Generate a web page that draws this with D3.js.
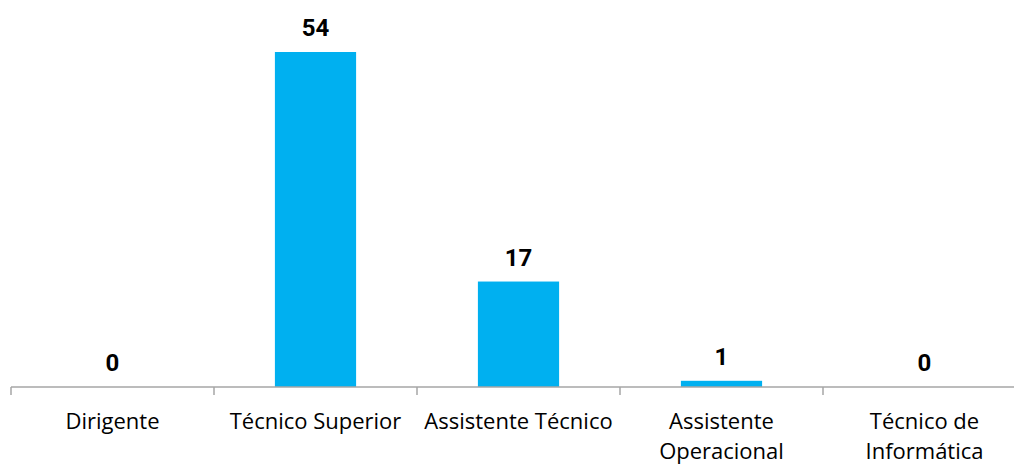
<!DOCTYPE html>
<html lang="pt">
  <head>
    <meta charset="utf-8">
    <script src="https://d3js.org/d3.v7.min.js"></script>
    <style>
      body { margin: 0; background: #fff; }
    </style>
  </head>
  <body>
    <script>

    // Data
    var categories = ["Dirigente", "Técnico Superior", "Assistente Técnico", "Assistente Operacional", "Técnico de Informática"];
    var values = [0, 54, 17, 1, 0];
    // tick labels as they wrap under each band
    var tickLines = [["Dirigente"], ["Técnico Superior"], ["Assistente Técnico"], ["Assistente", "Operacional"], ["Técnico de", "Informática"]];

    var svgW = 1014, svgH = 466;
    var baseY = 387; // y of the axis line
    var barColor = "#00b0f0";

    var svg = d3.select("body").append("svg")
                .attr("width", svgW)
                .attr("height", svgH);

    var xScale = d3.scaleBand()
                   .domain(categories)
                   .range([11, 1026])
                   .paddingInner(0.6)
                   .paddingOuter(0.3);

    var yScale = d3.scaleLinear()
                   .domain([0, 54])
                   .range([baseY, 52]);

    // Bars
    svg.selectAll("rect.bar")
       .data(categories)
       .enter()
       .append("rect")
         .attr("class", "bar")
         .attr("x", function(d) { return xScale(d); })
         .attr("y", function(d, i) { return yScale(values[i]); })
         .attr("width", xScale.bandwidth())
         .attr("height", function(d, i) { return baseY - yScale(values[i]); })
         .attr("fill", barColor);

    // Value labels
    svg.selectAll("text.value")
       .data(categories)
       .enter()
       .append("text")
         .attr("class", "value")
         .attr("x", function(d) { return xScale(d) + xScale.bandwidth() / 2; })
         .attr("y", function(d, i) { return yScale(values[i]) - 16; })
         .attr("text-anchor", "middle")
         .style("font-family", "Roboto, sans-serif")
         .style("font-weight", "bold")
         .style("font-size", "24px")
         .attr("fill", "#000")
         .text(function(d, i) { return values[i]; });

    // X axis: line + ticks at band boundaries
    var step = xScale.step();
    var edge = step * xScale.paddingOuter();
    var xAxis = d3.axisBottom(xScale).tickSize(0).tickFormat("");
    var axisG = svg.append("g")
                   .attr("transform", "translate(0," + baseY + ")")
                   .call(xAxis);
    axisG.select(".domain").remove();
    axisG.append("line")
         .attr("x1", 11).attr("x2", svgW)
         .attr("y1", 0).attr("y2", 0)
         .attr("stroke", "#a6a6a6")
         .attr("stroke-width", 1.5);
    axisG.selectAll("line.bound")
         .data(categories)
         .enter()
         .append("line")
           .attr("class", "bound")
           .attr("x1", function(d) { return xScale(d) - edge; })
           .attr("x2", function(d) { return xScale(d) - edge; })
           .attr("y1", 0).attr("y2", 8)
           .attr("stroke", "#a6a6a6")
           .attr("stroke-width", 1.5);

    // Category labels
    axisG.selectAll(".tick").each(function(d, i) {
      var t = d3.select(this).append("text")
                .attr("text-anchor", "middle")
                .attr("fill", "#000")
                .style("font-family", "'Open Sans', sans-serif")
                .style("font-size", "22px");
      tickLines[i].forEach(function(line, j) {
        t.append("tspan")
         .attr("x", 0)
         .attr("y", 42 + j * 30)
         .text(line);
      });
    });

    </script>
  </body>
</html>
